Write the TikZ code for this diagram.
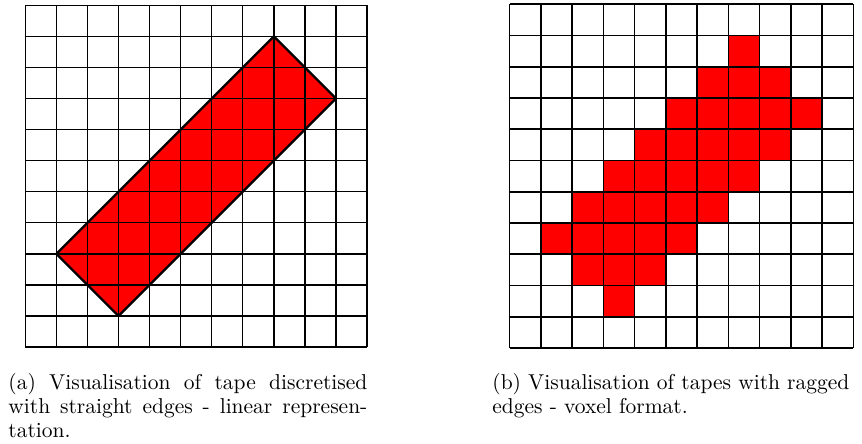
\documentclass[tikz,border=0pt]{standalone}
\begin{document}
\begin{tikzpicture}[x=0.5pt,y=-0.5pt,
  gridline/.style={draw=black,line width=0.65pt},
  tapefill/.style={fill=red},
  tapeedge/.style={draw=black,line width=1.1pt,line join=round},
  capstyle/.style={inner sep=0pt,anchor=base west,font=\fontsize{10.75}{12}\selectfont}]
\useasboundingbox (0,0) rectangle (862,444);
% ---------- (a) linear representation ----------
\begin{scope}[shift={(12.65pt,-2.65pt)},x=15.535pt,y=-15.535pt]
  \fill[tapefill] (8,1) -- (10,3) -- (3,10) -- (1,8) -- cycle;
  \foreach \i in {0,...,11} {
    \draw[gridline] (\i,0) -- (\i,11);
    \draw[gridline] (0,\i) -- (11,\i);
  }
  \draw[tapeedge] (8,1) -- (10,3) -- (3,10) -- (1,8) -- cycle;
\end{scope}
% ---------- (b) voxel format ----------
\begin{scope}[shift={(254.8pt,-2.1pt)},x=15.63pt,y=-15.63pt]
  \foreach \r/\a/\b in {1/7/7,2/6/8,3/5/9,4/4/8,5/3/7,6/2/6,7/1/5,8/2/4,9/3/3}
    \fill[tapefill] (\a,\r) rectangle (\b+1,\r+1);
  \foreach \i in {0,...,11} {
    \draw[gridline,line width=0.8pt] (\i,0) -- (\i,11);
    \draw[gridline,line width=0.8pt] (0,\i) -- (11,\i);
  }
\end{scope}
% ---------- captions ----------
\node[capstyle,text width=179.5pt,align=justify] (capA) at (8,389)
  {(a) Visualisation of tape discretised with straight edges - linear represen\-tation.};
\node[capstyle,text width=190pt,align=left] (capB) at (492,389)
  {(b) Visualisation of tapes with ragged\\edges - voxel format.};
\end{tikzpicture}
\end{document}
